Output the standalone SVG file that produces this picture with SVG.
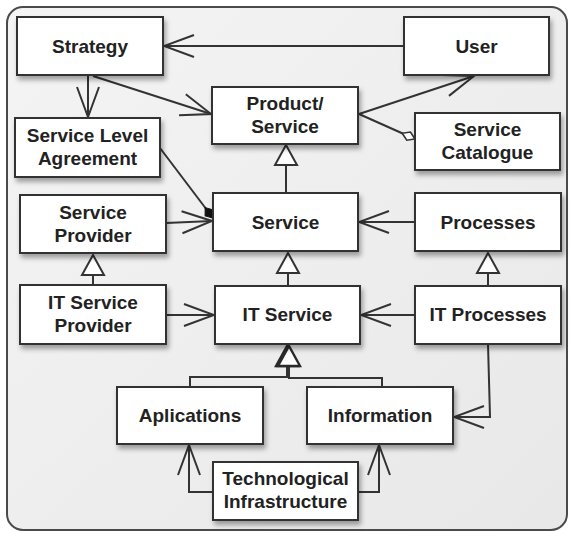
<svg xmlns="http://www.w3.org/2000/svg" width="570" height="533" viewBox="0 0 570 533">
  <defs>
    <linearGradient id="panelFill" x1="0" y1="0" x2="1" y2="1">
      <stop offset="0" stop-color="#f4f4f4"/>
      <stop offset="0.5" stop-color="#eeeeee"/>
      <stop offset="1" stop-color="#e8e8e8"/>
    </linearGradient>
    <filter id="boxShadow" x="-10%" y="-15%" width="125%" height="145%">
      <feDropShadow dx="2" dy="4" stdDeviation="2.5" flood-color="#000" flood-opacity="0.35"/>
    </filter>
    <!-- open arrowhead (association / dependency) -->
    <marker id="openArrow" viewBox="-32 -13 34 26" refX="0" refY="0" markerWidth="34" markerHeight="26" markerUnits="userSpaceOnUse" orient="auto">
      <path d="M-30,-11 L0,0 L-30,11" fill="none" stroke="#333" stroke-width="2"/>
    </marker>
    <!-- hollow triangle (generalization) -->
    <marker id="hollowTri" viewBox="-22 -13 24 26" refX="0" refY="0" markerWidth="24" markerHeight="26" markerUnits="userSpaceOnUse" orient="auto">
      <path d="M0,0 L-20,-11 L-20,11 Z" fill="#fff" stroke="#333" stroke-width="2" stroke-linejoin="miter"/>
    </marker>
    <marker id="hollowTriBold" viewBox="-22 -13 24 26" refX="0" refY="0" markerWidth="24" markerHeight="26" markerUnits="userSpaceOnUse" orient="auto">
      <path d="M0,0 L-20,-11 L-20,11 Z" fill="#fff" stroke="#2a2a2a" stroke-width="2.4" stroke-linejoin="miter"/>
    </marker>
    <!-- hollow diamond (aggregation) -->
    <marker id="hollowDiamond" viewBox="-16 -7 18 14" refX="0" refY="0" markerWidth="18" markerHeight="14" markerUnits="userSpaceOnUse" orient="auto">
      <path d="M0,0 L-7,-4.5 L-14,0 L-7,4.5 Z" fill="#fff" stroke="#333" stroke-width="1.6"/>
    </marker>
    <!-- filled diamond (composition) -->
    <marker id="filledDiamond" viewBox="-15 -7 17 14" refX="0" refY="0" markerWidth="17" markerHeight="14" markerUnits="userSpaceOnUse" orient="auto">
      <path d="M0,0 L-6.5,-5 L-13,0 L-6.5,5 Z" fill="#111" stroke="#111" stroke-width="1"/>
    </marker>
  </defs>
  <style>
    .box { fill: #fff; stroke: #333; stroke-width: 2; filter: url(#boxShadow); }
    .label { font-family: "Liberation Sans", Arial, Helvetica, sans-serif; font-weight: bold; font-size: 19px; fill: #222; text-anchor: middle; }
    .edge { fill: none; stroke: #333; stroke-width: 2; }
    .assoc { marker-end: url(#openArrow); }
    .gen { marker-end: url(#hollowTri); }
  </style>

  <!-- background panel -->
  <rect x="0" y="0" width="570" height="533" fill="#fff"/>
  <rect x="7" y="7" width="560" height="523" rx="16" ry="16" fill="url(#panelFill)" stroke="#4a4a4a" stroke-width="2"/>

  <!-- connectors -->
  <g id="connectors">
    <path class="edge assoc" d="M404,46 L164,46"/>
    <path class="edge assoc" d="M88,76 L88,117"/>
    <path class="edge assoc" d="M93,76 L211,114"/>
    <path class="edge assoc" d="M359,114 L474,76"/>
    <path class="edge" marker-end="url(#hollowDiamond)" d="M359,114 L415,139"/>
    <path class="edge" marker-end="url(#filledDiamond)" d="M160,148 L213,218"/>
    <path class="edge gen" d="M286,193 L286,145"/>
    <path class="edge assoc" d="M166,223 L212,221"/>
    <path class="edge assoc" d="M415,222 L359,222"/>
    <path class="edge gen" d="M93,285 L93,255"/>
    <path class="edge gen" d="M288,286 L288,253"/>
    <path class="edge gen" d="M488,286 L488,253"/>
    <path class="edge assoc" d="M166,315 L214,315"/>
    <path class="edge assoc" d="M415,315 L361,315"/>
    <path class="edge" marker-end="url(#hollowTriBold)" d="M190,387 L190,377 L287,377 L287,346"/>
    <path class="edge" marker-end="url(#hollowTriBold)" d="M382,387 L382,378 L289,378 L289,346"/>
    <path class="edge assoc" d="M488,344 L490,417 L454,417"/>
    <path class="edge assoc" d="M213,492 L189,492 L189,445"/>
    <path class="edge assoc" d="M358,492 L379,492 L379,445"/>
  </g>

  <!-- nodes -->
  <g id="strategy">
    <rect class="box" x="17" y="17" width="146" height="58"/>
    <text class="label" x="90" y="53">Strategy</text>
  </g>
  <g id="user">
    <rect class="box" x="404" y="17" width="145" height="58"/>
    <text class="label" x="476.5" y="53">User</text>
  </g>
  <g id="product-service">
    <rect class="box" x="212" y="87" width="146" height="57"/>
    <text class="label" x="285" y="110">Product/</text>
    <text class="label" x="285" y="133">Service</text>
  </g>
  <g id="service-level-agreement">
    <rect class="box" x="15" y="118" width="145" height="59"/>
    <text class="label" x="87.5" y="142">Service Level</text>
    <text class="label" x="87.5" y="165">Agreement</text>
  </g>
  <g id="service-catalogue">
    <rect class="box" x="415" y="113" width="145" height="57"/>
    <text class="label" x="487.5" y="136">Service</text>
    <text class="label" x="487.5" y="159">Catalogue</text>
  </g>
  <g id="service-provider">
    <rect class="box" x="20" y="195" width="146" height="58"/>
    <text class="label" x="93" y="218.5">Service</text>
    <text class="label" x="93" y="241.5">Provider</text>
  </g>
  <g id="service">
    <rect class="box" x="213" y="193" width="145" height="58"/>
    <text class="label" x="285.5" y="228.5">Service</text>
  </g>
  <g id="processes">
    <rect class="box" x="415" y="193" width="146" height="58"/>
    <text class="label" x="488" y="228.5">Processes</text>
  </g>
  <g id="it-service-provider">
    <rect class="box" x="20" y="285" width="146" height="59"/>
    <text class="label" x="93" y="308.5">IT Service</text>
    <text class="label" x="93" y="331.5">Provider</text>
  </g>
  <g id="it-service">
    <rect class="box" x="215" y="286" width="145" height="58"/>
    <text class="label" x="287.5" y="321">IT Service</text>
  </g>
  <g id="it-processes">
    <rect class="box" x="415" y="286" width="146" height="58"/>
    <text class="label" x="488" y="321">IT Processes</text>
  </g>
  <g id="aplications">
    <rect class="box" x="117" y="387" width="146" height="57"/>
    <text class="label" x="190" y="422">Aplications</text>
  </g>
  <g id="information">
    <rect class="box" x="307" y="387" width="146" height="57"/>
    <text class="label" x="380" y="422">Information</text>
  </g>
  <g id="technological-infrastructure">
    <rect class="box" x="213" y="462" width="145" height="58"/>
    <text class="label" x="285.5" y="485">Technological</text>
    <text class="label" x="285.5" y="508">Infrastructure</text>
  </g>
</svg>
